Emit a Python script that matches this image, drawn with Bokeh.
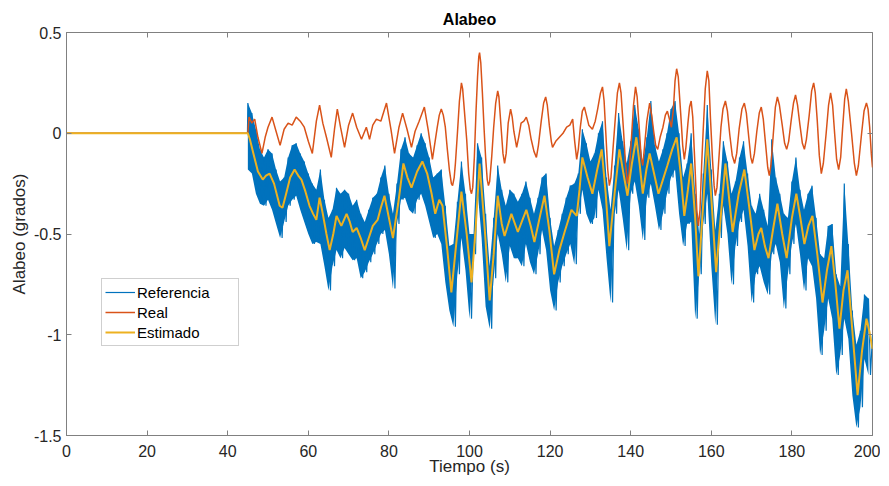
import numpy as np
from bokeh.plotting import figure
from bokeh.models import Range1d, LinearAxis, FixedTicker, Legend, LegendItem
from bokeh.embed import file_html
from bokeh.resources import INLINE

# ---- Real (orange): (time s, roll deg) ----
real_points = [
    (0, 0), (45, 0), (45.3, 0.08), (46, 0.05), (46.7, 0.07), (47.5, -0.02), (48.5, -0.10),
    (49.3, -0.02), (50, 0.03), (51, 0.08), (52, 0.01), (53, -0.06), (54, 0.02), (55, 0.05),
    (56, 0.04), (57, 0.08), (58, 0.06), (59, 0.03), (60, -0.04), (61, -0.10), (62, 0.06),
    (62.8, 0.14), (63.6, 0.05), (64.5, -0.02), (65.7, -0.12), (66.5, 0.02), (67.2, 0.12),
    (68, 0.03), (69, -0.07), (70, 0.04), (71, 0.10), (72, 0.03), (73.2, -0.03), (74.4, 0.03),
    (75.2, -0.03), (76, 0.04), (76.9, 0.07), (78, 0.06), (79.4, 0.15), (80.5, 0.02),
    (81.4, -0.10), (82.5, 0.03), (83.4, 0.10), (84.5, 0.02), (85.6, -0.07), (86.5, 0.01),
    (87.5, 0.06), (88.8, 0.13), (89.8, 0.01), (90.8, -0.13), (92, 0.03),
    (92.5, 0.09), (93, 0.12), (93.5, 0.09), (94, 0.03), (94.5, -0.08), (95, -0.18),
    (95.5, -0.25), (95.8, -0.26), (96.2, -0.22), (96.5, -0.15), (97, 0.00), (97.5, 0.16),
    (98, 0.25), (98.3, 0.22), (98.7, 0.12), (99.3, -0.03), (99.8, -0.20), (100.2, -0.28),
    (100.5, -0.30), (100.8, -0.27), (101.2, -0.12), (101.6, 0.10), (102, 0.28), (102.3, 0.38),
    (102.5, 0.40), (102.8, 0.35), (103.2, 0.20), (103.6, 0.03), (104, -0.12), (104.4, -0.23),
    (104.7, -0.26), (105, -0.24), (105.5, -0.12), (106, 0.03), (106.5, 0.15), (107, 0.21),
    (107.3, 0.18), (107.8, 0.04), (108.3, -0.10), (108.7, -0.15), (109.1, -0.10), (109.6, 0.05),
    (110.2, 0.12), (110.6, 0.08), (111, 0.01), (111.7, -0.07), (112.2, -0.02), (112.8, 0.05),
    (113.5, 0.06), (114.1, 0.08), (114.7, 0.04), (115.3, -0.03), (116, -0.09), (116.6, -0.12),
    (117.1, -0.06), (117.8, 0.06), (118.4, 0.15), (118.9, 0.18), (119.3, 0.14), (119.8, 0.04),
    (120.3, -0.04), (120.6, -0.07), (121.4, -0.04), (122.3, -0.02), (123.2, 0.00), (124.1, 0.03),
    (124.9, 0.04), (125.6, 0.07), (126.1, -0.04), (126.6, -0.13), (127, -0.08), (127.5, 0.03),
    (128, 0.11), (128.5, 0.13), (129, 0.09), (129.6, 0.04), (130.5, 0.02), (131.2, 0.06),
    (131.8, 0.12), (132.5, 0.20), (133, 0.23), (133.4, 0.16), (133.8, 0.01), (134.3, -0.18),
    (134.7, -0.26), (135.1, -0.22), (135.6, -0.08), (136.2, 0.08), (136.7, 0.20), (137.2, 0.25),
    (137.6, 0.20), (138.2, 0.02), (138.7, -0.15), (139.2, -0.25), (139.6, -0.20), (140.2, -0.02),
    (140.7, 0.14), (141.2, 0.23), (141.6, 0.18), (142.1, 0.03), (142.6, -0.12), (143, -0.16),
    (143.5, -0.05), (144, 0.06), (144.7, 0.15), (145.2, 0.09), (145.7, 0.01), (146.2, -0.06),
    (146.7, -0.08), (147.3, -0.02), (148, 0.03), (148.6, 0.09), (149.1, 0.11), (149.6, 0.07),
    (150.1, 0.03), (150.6, 0.12), (151, 0.26), (151.4, 0.32), (151.8, 0.28), (152.4, 0.10),
    (152.9, -0.06), (153.3, -0.13), (153.7, -0.07), (154.2, 0.05), (154.6, 0.13), (155, 0.16),
    (155.4, 0.08), (155.9, -0.14), (156.4, -0.38), (156.8, -0.46), (157.2, -0.38), (157.6, -0.16),
    (158, 0.02), (158.5, 0.22), (159, 0.31), (159.4, 0.26), (159.8, 0.07), (160.3, -0.13),
    (160.7, -0.26), (161, -0.31), (161.4, -0.27), (161.9, -0.12), (162.4, 0.03), (162.9, 0.12),
    (163.5, 0.16), (164, 0.11), (164.6, -0.01), (165.2, -0.11), (165.8, -0.15), (166.3, -0.10),
    (166.9, 0.02), (167.6, 0.12), (168.2, 0.15), (168.7, 0.10), (169.3, -0.02), (169.8, -0.12),
    (170.2, -0.15), (170.7, -0.10), (171.3, 0.01), (171.9, 0.10), (172.4, 0.13), (172.9, 0.07),
    (173.5, -0.06), (174, -0.17), (174.4, -0.21), (174.8, -0.16), (175.4, 0.00), (175.9, 0.13),
    (176.4, 0.18), (176.9, 0.14), (177.6, 0.04), (178.2, -0.05), (178.7, -0.08), (179.2, -0.04),
    (179.8, 0.06), (180.4, 0.15), (180.9, 0.19), (181.4, 0.14), (182, 0.04), (182.6, -0.05),
    (183.1, -0.08), (183.6, -0.03), (184.3, 0.09), (184.9, 0.21), (185.4, 0.25), (185.8, 0.20),
    (186.3, 0.06), (186.8, -0.11), (187.3, -0.20), (187.8, -0.15), (188.5, 0.00), (189.1, 0.14),
    (189.6, 0.20), (190.1, 0.14), (190.6, 0.00), (191.1, -0.13), (191.6, -0.18), (192.1, -0.12),
    (192.6, 0.03), (193.1, 0.17), (193.5, 0.22), (194, 0.16), (194.8, 0.00), (195.5, -0.15),
    (196, -0.21), (196.5, -0.16), (197.3, 0.00), (197.9, 0.11), (198.5, 0.15), (198.9, 0.12),
    (199.3, 0.03), (199.7, -0.10), (200, -0.17)]
real_t = [t for t, _ in real_points]
real_v = [v for _, v in real_points]

# ---- Estimado (yellow) ----
est_t = [0, 45, 45.5, 46.5, 47.5, 48.7, 49.5, 50.4, 51.5, 52.9, 53.6, 54.5, 55.5, 56.6, 57.5, 58.3,
         59.3, 60.3, 61.2, 62, 62.8, 63.6, 64.5, 65.3, 66.2, 67, 68.2, 69.5, 70.3, 71, 72, 73, 74, 75,
         76, 77.2, 78, 78.9, 80, 81, 82.3, 83.6, 84.6, 85.6, 87, 88.3, 89.5, 90.6, 91.5, 92.5, 93.3,
         94.5, 95.5, 96.7, 98, 99.3, 100.5, 101.5, 102.5, 103.8, 105, 106, 107, 108, 108.7, 110.4,
         112, 114.1, 115.2, 116.1, 117.4, 118.6, 119.8, 121, 122.3, 123.6, 125.3, 126.6, 127.3, 128,
         129.3, 130.5, 131.7, 132.8, 133.8, 134.7, 136, 137.2, 138.2, 139.2, 140.3, 141.4, 142.2, 143,
         143.9, 144.7, 145.8, 146.9, 148, 149.1, 150.3, 151.4, 152.4, 153.3, 154.2, 155, 156, 156.8,
         158, 159, 160.1, 161.2, 162.4, 163.5, 164.4, 165.3, 166.8, 168.2, 169.5, 170.7, 171.7, 172.4,
         173.3, 174.2, 175.3, 176.4, 177.6, 178.7, 180, 181.1, 182.1, 183.1, 184.1, 185.1, 186.3,
         187.6, 188.7, 189.8, 190.8, 191.8, 192.8, 193.8, 195, 196.3, 197.4, 198.5, 199.2, 200]
est_v = [0, 0, -0.03, -0.11, -0.19, -0.23, -0.21, -0.20, -0.25, -0.36, -0.37, -0.30, -0.22, -0.18,
         -0.21, -0.23, -0.29, -0.36, -0.40, -0.43, -0.32, -0.40, -0.50, -0.58, -0.50, -0.41, -0.46,
         -0.40, -0.44, -0.49, -0.47, -0.52, -0.58, -0.52, -0.46, -0.43, -0.37, -0.31, -0.42, -0.52,
         -0.35, -0.15, -0.22, -0.27, -0.19, -0.14, -0.20, -0.30, -0.40, -0.33, -0.36, -0.58, -0.79,
         -0.55, -0.29, -0.50, -0.74, -0.48, -0.15, -0.48, -0.83, -0.60, -0.31, -0.45, -0.51, -0.40,
         -0.49, -0.38, -0.46, -0.54, -0.42, -0.31, -0.48, -0.70, -0.58, -0.49, -0.38, -0.41, -0.28,
         -0.12, -0.22, -0.30, -0.18, -0.08, -0.30, -0.56, -0.30, -0.08, -0.20, -0.31, -0.15, -0.02,
         -0.15, -0.30, -0.18, -0.10, -0.20, -0.30, -0.23, -0.16, -0.08, -0.02, -0.20, -0.41, -0.28,
         -0.15, -0.42, -0.71, -0.35, -0.03, -0.35, -0.69, -0.40, -0.15, -0.32, -0.49, -0.30, -0.18,
         -0.38, -0.58, -0.50, -0.47, -0.56, -0.62, -0.48, -0.35, -0.50, -0.62, -0.42, -0.30, -0.42,
         -0.55, -0.46, -0.41, -0.60, -0.84, -0.68, -0.56, -0.75, -0.97, -0.78, -0.68, -0.98, -1.30,
         -1.08, -0.92, -0.98, -1.07]

# ---- Referencia (blue), one value every 0.5 s from t = 45 s ----
ref_start = 45.0
ref_step = 0.5
ref_v = [
    0.15, -0.18, 0.10, -0.20, 0.02, -0.30, -0.08, -0.35, -0.12, -0.36,
    -0.08, -0.33, -0.10, -0.38, -0.18, -0.45, -0.24, -0.52, -0.22, -0.44,
    -0.12, -0.36, -0.06, -0.33, -0.05, -0.31, -0.10, -0.38, -0.14, -0.44,
    -0.20, -0.50, -0.25, -0.55, -0.28, -0.54, -0.18, -0.55, -0.33, -0.66,
    -0.42, -0.78, -0.38, -0.66, -0.27, -0.58, -0.30, -0.62, -0.28, -0.57,
    -0.30, -0.60, -0.36, -0.63, -0.33, -0.62, -0.40, -0.72, -0.44, -0.69,
    -0.38, -0.64, -0.32, -0.60, -0.30, -0.55, -0.22, -0.50, -0.16, -0.48,
    -0.30, -0.60, -0.40, -0.77, -0.25, -0.45, -0.08, -0.33, -0.02, -0.32,
    -0.10, -0.38, -0.12, -0.40, -0.06, -0.33, 0.00, -0.30, -0.05, -0.36,
    -0.12, -0.44, -0.22, -0.52, -0.20, -0.50, -0.18, -0.55, -0.36, -0.74,
    -0.56, -0.88, -0.55, -0.96, -0.34, -0.70, -0.14, -0.52, -0.30, -0.68,
    -0.50, -0.92, -0.50, -0.60, -0.05, -0.28, -0.12, -0.52, -0.40, -0.86,
    -0.66, -0.97, -0.42, -0.72, -0.16, -0.50, -0.28, -0.60, -0.36, -0.74,
    -0.28, -0.56, -0.30, -0.62, -0.34, -0.62, -0.30, -0.66, -0.24, -0.55,
    -0.32, -0.64, -0.40, -0.70, -0.32, -0.60, -0.22, -0.48, -0.20, -0.58,
    -0.42, -0.78, -0.56, -0.88, -0.48, -0.74, -0.40, -0.66, -0.32, -0.60,
    -0.26, -0.55, -0.25, -0.65, -0.20, -0.40, 0.02, -0.28, -0.05, -0.40,
    -0.14, -0.45, -0.10, -0.42, 0.00, -0.28, 0.06, -0.38, -0.22, -0.62,
    -0.38, -0.84, -0.16, -0.40, 0.10, -0.28, -0.04, -0.42, -0.15, -0.58,
    -0.04, -0.30, 0.14, -0.24, 0.02, -0.36, -0.15, -0.53, -0.02, -0.32,
    0.16, -0.25, -0.06, -0.36, -0.14, -0.48, -0.08, -0.40, 0.00, -0.30,
    0.12, -0.22, 0.16, -0.18, 0.00, -0.40, -0.22, -0.56, -0.15, -0.45,
    0.00, -0.44, -0.30, -0.92, -0.50, -0.70, -0.20, -0.45, 0.14, -0.30,
    -0.18, -0.66, -0.48, -0.95, -0.30, -0.52, -0.04, -0.36, -0.14, -0.50,
    -0.30, -0.75, -0.24, -0.56, -0.12, -0.44, -0.04, -0.38, -0.20, -0.56,
    -0.36, -0.84, -0.40, -0.70, -0.30, -0.66, -0.38, -0.74, -0.46, -0.80,
    -0.03, -0.60, -0.22, -0.55, -0.30, -0.64, -0.40, -0.87, -0.42, -0.70,
    -0.24, -0.55, -0.12, -0.45, -0.28, -0.60, -0.38, -0.78, -0.30, -0.62,
    -0.26, -0.66, -0.42, -0.82, -0.60, -1.10, -0.62, -0.98, -0.46, -0.82,
    -0.45, -0.92, -0.70, -1.20, -0.76, -1.10, -0.25, -0.92, -0.55, -1.02,
    -0.88, -1.30, -1.05, -1.46, -0.98, -1.36, -0.80, -1.12, -0.82, -1.20,
    -1.00]

x_ticks = [0, 20, 40, 60, 80, 100, 120, 140, 160, 180, 200]
y_ticks = [-1.5, -1, -0.5, 0, 0.5]
y_tick_labels = ["-1.5", "-1", "-0.5", "0", "0.5"]

ref_t = [0.0, 44.9] + [ref_start + ref_step * i for i in range(len(ref_v))]
ref_all = [0.0, 0.0] + ref_v
# dense band of the noisy reference: successive high / low samples
n_band = len(ref_v) // 2
band_t = [ref_start + 2 * ref_step * i for i in range(n_band)]
band_hi = ref_v[0:2 * n_band:2]
band_lo = ref_v[1:2 * n_band:2]

FONT = "Liberation Sans"
AX = "#808080"
TXT = "#262626"
BLUE = "#0072BD"

p = figure(width=880, height=478, x_range=Range1d(0, 200), y_range=Range1d(-1.5, 0.5),
           output_backend="svg", toolbar_location=None, title="Alabeo",
           min_border_left=66, min_border_right=8, min_border_top=32, min_border_bottom=43)
p.title.align = "center"
p.title.text_font = FONT
p.title.text_font_size = "16px"
p.title.text_font_style = "bold"
p.title.text_color = "#000000"
p.title.standoff = 9
p.xgrid.visible = False
p.ygrid.visible = False
p.outline_line_color = AX
p.outline_line_width = 1

for ax in (p.xaxis[0], p.yaxis[0]):
    ax.major_tick_in = 5
    ax.major_tick_out = 0
    ax.minor_tick_in = 0
    ax.minor_tick_out = 0
    ax.axis_line_color = AX
    ax.major_tick_line_color = AX
    ax.major_label_text_font = FONT
    ax.major_label_text_font_size = "16px"
    ax.major_label_text_color = TXT
    ax.axis_label_text_font = FONT
    ax.axis_label_text_font_size = "17px"
    ax.axis_label_text_font_style = "normal"
    ax.axis_label_text_color = TXT

p.xaxis.ticker = FixedTicker(ticks=x_ticks)
p.yaxis.ticker = FixedTicker(ticks=y_ticks)
p.yaxis.major_label_overrides = {t: s for t, s in zip(y_ticks, y_tick_labels)}
p.xaxis.axis_label = "Tiempo (s)"
p.yaxis.axis_label = "Alabeo (grados)"
p.xaxis.major_label_standoff = 9
p.xaxis.axis_label_standoff = -3
p.yaxis.major_label_standoff = 5
p.yaxis.axis_label_standoff = 2

for loc, ticks in (("above", x_ticks), ("right", y_ticks)):
    a = LinearAxis(ticker=FixedTicker(ticks=ticks), major_label_text_font_size="0px",
                   major_tick_in=5, major_tick_out=0, minor_tick_in=0, minor_tick_out=0,
                   axis_line_color=None, major_tick_line_color=AX, major_label_standoff=0)
    a.major_label_text_color = None
    p.add_layout(a, loc)

p.varea(x=band_t, y1=band_hi, y2=band_lo, fill_color=BLUE, fill_alpha=1.0)
r1 = p.line(ref_t, ref_all, line_color=BLUE, line_width=1.2)
r2 = p.line(real_t, real_v, line_color="#D95319", line_width=1.5)
r3 = p.line(est_t, est_v, line_color="#EDB120", line_width=2)

legend = Legend(items=[LegendItem(label="Referencia", renderers=[r1]),
                       LegendItem(label="Real", renderers=[r2]),
                       LegendItem(label="Estimado", renderers=[r3])],
                location=(35, 89))
legend.label_text_font = FONT
legend.label_text_font_size = "15px"
legend.label_text_color = "#000000"
legend.border_line_color = "#a0a0a0"
legend.border_line_width = 1
legend.background_fill_color = "white"
legend.background_fill_alpha = 1
legend.padding = 3
legend.spacing = 0
legend.margin = 0
legend.glyph_width = 30
legend.glyph_height = 20
legend.label_height = 20
legend.label_width = 98
legend.label_standoff = 2
p.add_layout(legend)

open("out.html", "w").write(file_html(p, INLINE))
